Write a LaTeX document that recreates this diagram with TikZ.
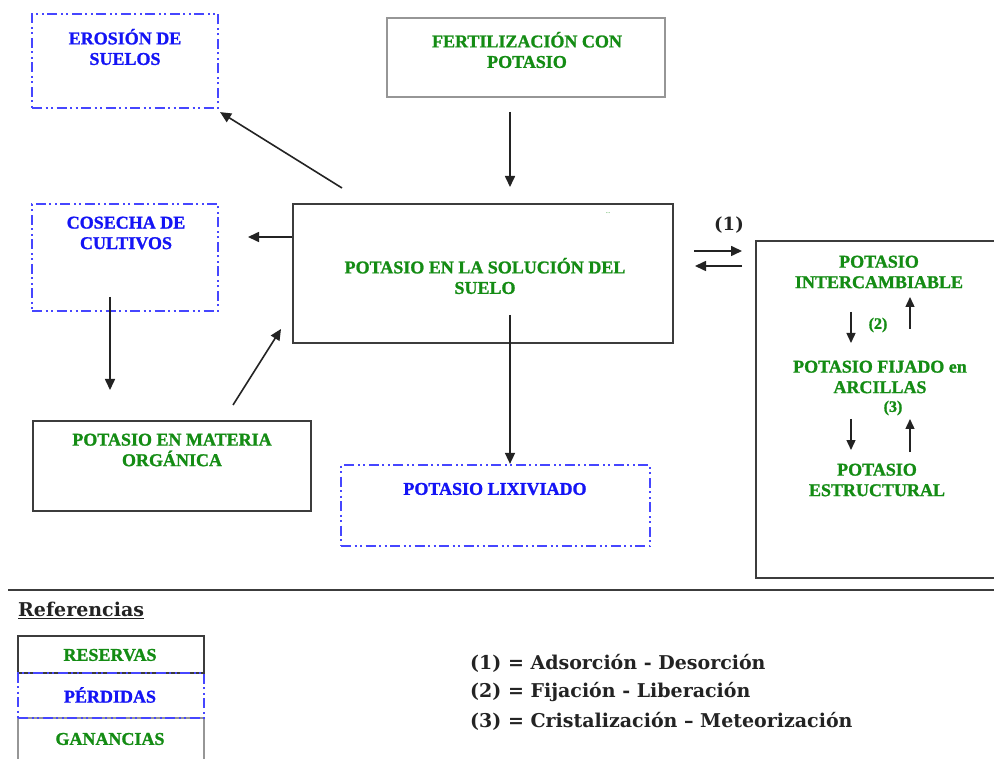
\documentclass[tikz,border=0pt]{standalone}
\usepackage{fontspec}
\setmainfont{Liberation Serif}[BoldFeatures={FakeBold=1.2}]
\newfontfamily\legfont{DejaVu Serif}
\usetikzlibrary{arrows.meta}
\definecolor{kgreen}{RGB}{20,140,20}
\definecolor{kblue}{RGB}{20,20,245}
\definecolor{kbluel}{RGB}{70,70,255}
\definecolor{kdark}{RGB}{60,60,60}
\definecolor{klight}{RGB}{150,150,150}
\definecolor{karrow}{RGB}{35,35,35}
\tikzset{
  boxtxt/.style={font=\fontsize{18}{20.5}\selectfont\bfseries, align=center, inner sep=0pt},
  gtxt/.style={boxtxt, text=kgreen},
  btxt/.style={boxtxt, text=kblue},
  darkbox/.style={draw=kdark, line width=2.4pt, inner sep=0pt},
  lightbox/.style={draw=klight, line width=1.7pt, inner sep=0pt},
  lossbox/.style={draw=kbluel, line width=2.2pt, dash pattern=on 10pt off 3.5pt on 2pt off 3.5pt on 2pt off 3.5pt, inner sep=0pt},
  arr/.style={draw=karrow, line width=1.6pt, -{Triangle[length=11pt,width=10pt]}},
  smallarr/.style={draw=karrow, line width=1.4pt, -{Triangle[length=10pt,width=9pt]}},
  legtxt/.style={font=\legfont\fontsize{19}{22}\selectfont\bfseries, text=karrow, inner sep=0pt, anchor=west},
}
\begin{document}
\begin{tikzpicture}[x=1pt,y=-1pt]
\useasboundingbox[fill=white] (0,0) rectangle (994,759);

% boxes
\node[lossbox, minimum width=186pt, minimum height=94pt] (eros) at (125,61) {};
\node[lightbox, minimum width=278pt, minimum height=79pt] (fert) at (526,57.5) {};
\node[lossbox, minimum width=186pt, minimum height=107pt] (cosecha) at (125,257.5) {};
\node[darkbox, minimum width=380pt, minimum height=139pt] (main) at (483,273.5) {};
\node[darkbox, minimum width=278pt, minimum height=90pt] (materia) at (172,466) {};
\node[lossbox, minimum width=309pt, minimum height=81pt] (lixiv) at (495.5,505.5) {};
\node[darkbox, minimum width=254pt, minimum height=337pt] (right) at (883,409.5) {};

% box texts
\node[btxt] (erost) at (125,47) {EROSIÓN DE\\SUELOS};
\node[gtxt] (fertt) at (527,50) {FERTILIZACIÓN CON\\POTASIO};
\node[btxt] (cosechat) at (126,233) {COSECHA DE\\CULTIVOS};
\node[gtxt] (maint) at (485,276) {POTASIO EN LA SOLUCIÓN DEL\\SUELO};
\node[gtxt, font=\fontsize{6}{6}\selectfont] (dots) at (608,213) {...};
\node[gtxt] (materiat) at (172,450) {POTASIO EN MATERIA\\ORGÁNICA};
\node[btxt] (lixivt) at (495,489) {POTASIO LIXIVIADO};
\node[gtxt] (inter) at (879,272) {POTASIO\\INTERCAMBIABLE};
\node[gtxt, font=\fontsize{16}{18}\selectfont\bfseries] (two) at (878,325) {(2)};
\node[gtxt] (fijado) at (880,377) {POTASIO FIJADO en\\ARCILLAS};
\node[gtxt, font=\fontsize{16}{18}\selectfont\bfseries] (three) at (893,408) {(3)};
\node[gtxt] (estruc) at (877,480) {POTASIO\\ESTRUCTURAL};
\node[inner sep=0pt, text=karrow, font=\legfont\fontsize{18}{20}\selectfont\bfseries] (one) at (729,225) {(1)};

% arrows
\coordinate (f1) at (510,112); \coordinate (f2) at (510,187);
\draw[arr] (f1) -- (f2);
\coordinate (e1) at (342,188);
\draw[arr] (e1) -- ([shift={(1pt,-3pt)}]eros.south east);
\coordinate (c1) at (248,237);
\draw[arr] (main.west |- c1) -- (c1);
\coordinate (cd1) at (110,297); \coordinate (cd2) at (110,390);
\draw[arr] (cd1) -- (cd2);
\coordinate (m1) at (233,405); \coordinate (m2) at (281,329);
\draw[arr] (m1) -- (m2);
\coordinate (l1) at (510,315);
\draw[arr] (l1) -- (l1 |- lixiv.north);
\coordinate (a1) at (694,251); \coordinate (a2) at (742,251);
\draw[arr] (a1) -- (a2);
\coordinate (b1) at (742,266); \coordinate (b2) at (695,266);
\draw[arr] (b1) -- (b2);
\coordinate (d1) at (851,312); \coordinate (d2) at (851,343);
\draw[smallarr] (d1) -- (d2);
\coordinate (u1) at (910,329); \coordinate (u2) at (910,297);
\draw[smallarr] (u1) -- (u2);
\coordinate (d3) at (851,419); \coordinate (d4) at (851,450);
\draw[smallarr] (d3) -- (d4);
\coordinate (u3) at (910,452); \coordinate (u4) at (910,419);
\draw[smallarr] (u3) -- (u4);

% separator
\coordinate (s1) at (8,590); \coordinate (s2) at (994,590);
\draw[kdark, line width=2.4pt] (s1) -- (s2);

% legend
\node[legtxt, font=\legfont\fontsize{19}{21}\selectfont\bfseries] (ref) at (18,610) {\underline{Referencias}};
\node[darkbox, minimum width=186pt, minimum height=37pt] (reserv) at (111,654.5) {};
\node[lightbox, minimum width=186pt, minimum height=62pt] (ganan) at (111,749) {};
\node[lossbox, minimum width=186pt, minimum height=45pt] (perd) at (111,695.5) {};
\node[gtxt] (reservt) at (110,655) {RESERVAS};
\node[btxt] (perdt) at (110,695) {PÉRDIDAS};
\node[gtxt] (gananct) at (110,739) {GANANCIAS};

\node[legtxt] (def1) at (470,663) {(1) = Adsorción - Desorción};
\node[legtxt] (def2) at (470,692) {(2) = Fijación - Liberación};
\node[legtxt] (def3) at (470,721) {(3) = Cristalización – Meteorización};
\end{tikzpicture}
\end{document}
